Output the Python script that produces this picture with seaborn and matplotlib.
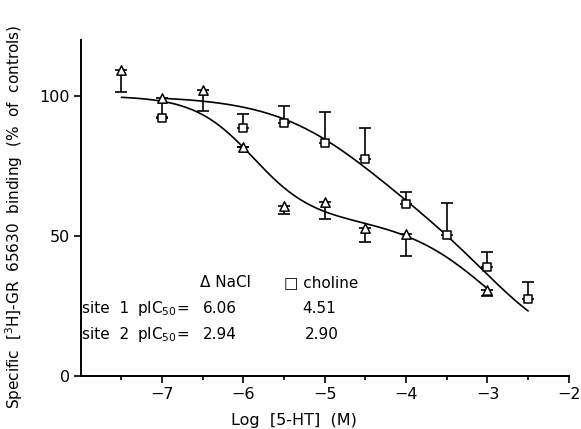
import numpy as np
import matplotlib
matplotlib.use("Agg")
import matplotlib.pyplot as plt
import seaborn as sns

# data
nacl_x = [-7.5, -7.0, -6.5, -6.0, -5.5, -5.0, -4.5, -4.0, -3.0]
nacl_y = [109.3, 99.3, 102.0, 81.9, 60.7, 62.2, 52.9, 50.7, 30.7]
nacl_err = [8.0, 7.0, 7.5, 0.0, 3.0, 6.0, 5.0, 8.0, 2.0]

chol_x = [-7.0, -6.0, -5.5, -5.0, -4.5, -4.0, -3.5, -3.0, -2.5]
chol_y = [92.1, 88.6, 90.4, 83.2, 77.4, 61.3, 50.4, 39.0, 27.4]
chol_err = [0.0, 5.0, 6.0, 11.0, 11.0, 4.3, 11.3, 5.4, 6.3]

# two-site curves as drawn (midpoints, slopes, site-1 fraction, bottom)
nacl_mid = (5.88, 2.94)
nacl_slope = (1.2, 0.8)
nacl_frac, nacl_bottom = 0.45, 3.0
chol_mid = (4.51, 2.90)
chol_slope = (0.7, 0.9)
chol_frac, chol_bottom = 0.52, 8.0


def two_site(x, mid, slope, frac, bottom):
    x = np.asarray(x)
    s1 = 1.0 / (1.0 + 10 ** (slope[0] * (x + mid[0])))
    s2 = 1.0 / (1.0 + 10 ** (slope[1] * (x + mid[1])))
    return bottom + (100.0 - bottom) * (frac * s1 + (1 - frac) * s2)


sns.set_style("ticks")
plt.rcParams['font.family'] = ['DejaVu Sans']

fig = plt.figure(figsize=(5.81, 4.29), dpi=100)
ax = fig.add_axes([0.139, 0.1235, 0.84, 0.7835])

xc1 = np.linspace(-7.5, -3.0, 200)
xc2 = np.linspace(-7.0, -2.5, 200)
sns.lineplot(x=xc1, y=two_site(xc1, nacl_mid, nacl_slope, nacl_frac, nacl_bottom),
             color="black", lw=1.2, ax=ax)
sns.lineplot(x=xc2, y=two_site(xc2, chol_mid, chol_slope, chol_frac, chol_bottom),
             color="black", lw=1.2, ax=ax)

# one-sided error bars: NaCl down, choline up
ax.errorbar(nacl_x, nacl_y, yerr=[nacl_err, [0] * len(nacl_err)], fmt="none",
            ecolor="black", elinewidth=1.2, capsize=4.5, capthick=1.2)
ax.errorbar(chol_x, chol_y, yerr=[[0] * len(chol_err), chol_err], fmt="none",
            ecolor="black", elinewidth=1.2, capsize=4.5, capthick=1.2)

sns.scatterplot(x=nacl_x, y=nacl_y, marker="^", s=45, facecolor="white",
                edgecolor="black", linewidth=1.1, ax=ax, zorder=5)
sns.scatterplot(x=chol_x, y=chol_y, marker="s", s=34, facecolor="white",
                edgecolor="black", linewidth=1.1, ax=ax, zorder=5)

ax.set_xlim(-8, -2)
ax.set_ylim(0, 120)
ax.set_xticks([-7, -6, -5, -4, -3, -2])
ax.set_xticklabels(["\u22127", "\u22126", "\u22125", "\u22124", "\u22123", "\u22122"])
ax.set_xticks([-7.5, -6.5, -5.5, -4.5, -3.5, -2.5], minor=True)
ax.set_yticks([0, 50, 100])
ax.tick_params(axis="both", which="major", length=5, width=1.2, labelsize=11.5,
               color="black", labelcolor="black", pad=3)
ax.tick_params(axis="x", which="minor", length=3, width=1.2, color="black")
for s in ["left", "bottom"]:
    ax.spines[s].set_linewidth(1.4)
    ax.spines[s].set_color("black")
sns.despine(ax=ax)

ax.set_xlabel("Log  [5-HT]  (M)", fontsize=11.5, color="black")
ax.xaxis.set_label_coords(0.436, -0.110)
ax.set_ylabel("Specific  [$^3$H]-GR  65630  binding  (%  of  controls)",
              fontsize=11, color="black")
ax.yaxis.set_label_coords(-0.115, 0.473)

tk = dict(fontsize=11, color="black", va="baseline")
ax.text(-6.54, 31.8, "\u0394 NaCl", **tk)
ax.text(-5.50, 31.8, "\u25a1 choline", **tk)
ax.text(-7.99, 22.5, "site  1", **tk)
ax.text(-7.31, 22.5, "pIC$_{50}$=", **tk)
ax.text(-6.50, 22.5, "6.06", **tk)
ax.text(-5.28, 22.5, "4.51", **tk)
ax.text(-7.99, 13.2, "site  2", **tk)
ax.text(-7.31, 13.2, "pIC$_{50}$=", **tk)
ax.text(-6.50, 13.2, "2.94", **tk)
ax.text(-5.245, 13.2, "2.90", **tk)

fig.savefig("out.png", dpi=100)
